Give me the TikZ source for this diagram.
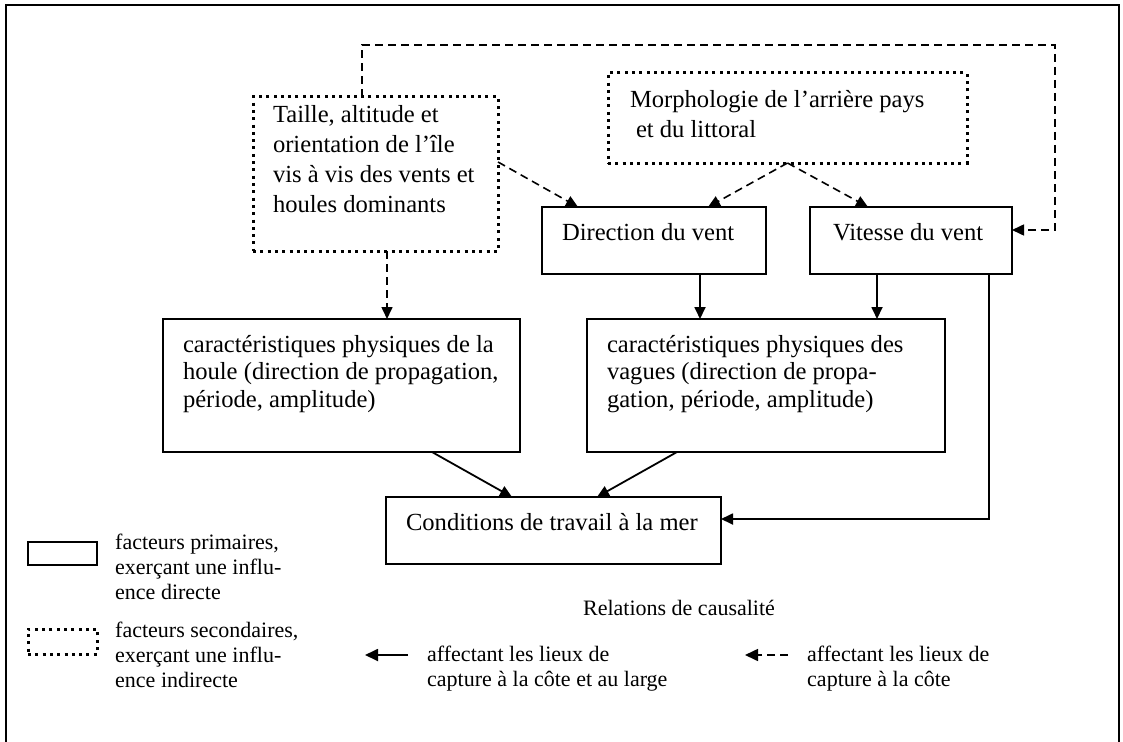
\documentclass[tikz,border=0pt]{standalone}
\usepackage{fontspec}
\setmainfont{Liberation Serif}
\usetikzlibrary{arrows.meta,calc}
\newcommand{\bxt}[4]{\parbox[t][#2pt][t]{#1pt}{\raggedright\rule{0pt}{#3pt}#4}}
\newcommand{\lgt}[1]{\parbox[t]{300pt}{\raggedright #1}}
\tikzset{
 solidbox/.style={draw, line width=2pt, inner xsep=20pt, inner ysep=0pt, outer sep=0pt, anchor=north west, font=\fontsize{24.6}{28}\selectfont},
 dotbox/.style={solidbox, line width=3pt, dash pattern=on 3pt off 4.3pt},
 arrowtip/.style={-{Triangle[length=12pt,width=11pt]}},
 sline/.style={line width=1.8pt, arrowtip},
 dline/.style={line width=1.6pt, dash pattern=on 8pt off 5pt, arrowtip},
 legtext/.style={anchor=base west, inner sep=0pt, font=\fontsize{22}{25}\selectfont},
}
\begin{document}
\begin{tikzpicture}[x=1pt,y=-1pt]
\useasboundingbox (0,0) rectangle (1123,741);
\draw[line width=2pt] (6,760) -- (6,5) -- (1119,5) -- (1119,760);

% boxes
\node[dotbox, font=\fontsize{24.6}{30.3}\selectfont] (taille) at (253,97)
  {\bxt{205}{154}{25}{Taille, altitude et\\orientation de l’île\\vis à vis des vents et\\houles dominants}};
\node[dotbox, inner xsep=22pt, font=\fontsize{24.6}{30.3}\selectfont] (morph) at (608,73)
  {\bxt{315}{90}{34}{Morphologie de l’arrière pays\\\hspace*{6pt}et du littoral}};
\node[solidbox] (dir) at (542,207) {\bxt{184}{67}{33}{Direction du vent}};
\node[solidbox, inner xsep=23pt] (vit) at (810,207) {\bxt{156}{67}{33}{Vitesse du vent}};
\node[solidbox, font=\fontsize{24.6}{27.7}\selectfont] (houle) at (163,319)
  {\bxt{317}{133}{33}{caractéristiques physiques de la\\houle (direction de propagation,\\période, amplitude)}};
\node[solidbox, font=\fontsize{24.6}{27.9}\selectfont] (vagues) at (587,319)
  {\bxt{318}{133}{33}{caractéristiques physiques des\\vagues (direction de propa-\\gation, période, amplitude)}};
\node[solidbox] (cond) at (386,497) {\bxt{295}{67}{33}{Conditions de travail à la mer}};

% connectors
\draw[dline] ([xshift=109pt]taille.north west) |- ($(vit.north east)+(43,-162)$) |- ([yshift=-23pt]vit.north east);
\draw[dline] ([yshift=12pt]taille.east) -- ([xshift=36pt]dir.north west);
\draw[dline] (morph.south) -- ([xshift=166pt]dir.north west);
\draw[dline] (morph.south) -- ([xshift=58pt]vit.north west);
\draw[dline] ([xshift=11.5pt]taille.south) -- ([xshift=45.5pt]houle.north);
\draw[sline] ([xshift=46pt]dir.south) -- ([xshift=-66pt]vagues.north);
\draw[sline] ([xshift=-34pt]vit.south) -- ([xshift=111pt]vagues.north);
\draw[sline] ([xshift=78pt]vit.south) |- ([yshift=11.5pt]cond.east);
\draw[sline] ([xshift=90.5pt]houle.south) -- ([xshift=-41.5pt]cond.north);
\draw[sline] ([xshift=-89pt]vagues.south) -- ([xshift=43.5pt]cond.north);

% legend
\node[draw, line width=2pt, minimum width=69pt, minimum height=23pt, inner sep=0pt, outer sep=0pt, anchor=north west] (legp) at (28,542) {};
\node[draw, line width=3pt, dash pattern=on 3pt off 4.3pt, minimum width=69pt, minimum height=25pt, inner sep=0pt, outer sep=0pt, anchor=north west] (legs) at (28,629) {};
\node[legtext] (legpt) at (115,549) {\lgt{facteurs primaires,\\exerçant une influ-\\ence directe}};
\node[legtext] (legst) at (115,637) {\lgt{facteurs secondaires,\\exerçant une influ-\\ence indirecte}};
\node[anchor=base, inner sep=0pt, font=\fontsize{22}{25}\selectfont] (rel) at (679,615) {Relations de causalité};
\coordinate (ls1) at (408,655);
\coordinate (ls2) at (365,655);
\draw[sline, -{Triangle[length=13pt,width=12pt]}] (ls1) -- (ls2);
\node[legtext] (lst) at (427,661) {\lgt{affectant les lieux de\\capture à la côte et au large}};
\coordinate (ld1) at (788,655);
\coordinate (ld2) at (745,655);
\draw[dline, -{Triangle[length=13pt,width=12pt]}] (ld1) -- (ld2);
\node[legtext] (ldt) at (807,661) {\lgt{affectant les lieux de\\capture à la côte}};
\end{tikzpicture}
\end{document}
